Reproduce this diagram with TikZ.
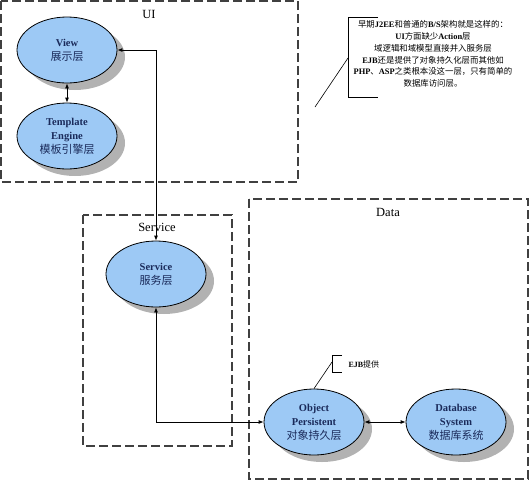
\documentclass[tikz,border=0pt]{standalone}
\usepackage{fontspec}
\setmainfont{Liberation Serif}
\newfontfamily\cjk{Noto Sans CJK SC}
\usetikzlibrary{shapes.geometric,shadows,arrows.meta}
\definecolor{partblue}{HTML}{9DC9F5}
\definecolor{parttext}{HTML}{1A2A5A}
\newcommand\en[1]{{\rmfamily\bfseries #1}}
\newcommand\zh[1]{{\cjk\mdseries\fontsize{11}{14}\selectfont #1}}

\begin{document}
\begin{tikzpicture}[x=1pt,y=-1pt,
		layer/.style={draw=black!75,line width=1.1pt,dash pattern=on 9pt off 4pt},
		title/.style={font=\fontsize{12.5}{14}\selectfont},
		part/.style={ellipse,draw,line width=0.8pt,fill=partblue,
				minimum width=100pt,minimum height=66pt,inner sep=0pt,
				align=center,text=parttext,font=\fontsize{10.5}{14}\selectfont\bfseries,
				drop shadow={shadow xshift=8pt,shadow yshift=-7pt,fill=black!30,opacity=1}},
		link/.style={line width=0.8pt,{Latex[length=5pt,width=4pt]}-{Latex[length=5pt,width=4pt]}},
		callout/.style={line width=0.6pt}
	]
	\useasboundingbox (0,0) rectangle (530,480);
	% layers
	\draw[layer] (1,1) rectangle (298,182);
	\draw[layer] (83,215) rectangle (232,446);
	\draw[layer] (249,199) rectangle (528,479);
	\node[title] (uiname) at (149,14) {UI};
	\node[title] (servicename) at (157,227) {Service};
	\node[title] (dataname) at (388,212) {Data};
	% parts
	\node[part] (view) at (67,50) {View\\\zh{展示层}};
	\node[part] (template) at (67,136) {Template\\Engine\\\zh{模板引擎层}};
	\node[part] (service) at (156,274) {Service\\\zh{服务层}};
	\node[part] (object) at (314,422) {Object\\Persistent\\\zh{对象持久层}};
	\node[part] (database) at (456,422) {Database\\System\\\zh{数据库系统}};
	\draw[link] (view.south) -- (template.north);
	\draw[link] (view.east) -| (service.north);
	\draw[link] (service.south) |- (object.west);
	\draw[link] (object.east) -- (database.west);
	% notes
	\node[align=center,font=\cjk\fontsize{8.4}{11.7}\selectfont] (note) at (433,54)
		{早期\en{J2EE}和普通的\en{B/S}架构就是这样的：\\
		\en{UI}方面缺少\en{Action}层\\
		域逻辑和域模型直接并入服务层\\
		\en{EJB}还是提供了对象持久化层而其他如\\
		\en{PHP}、\en{ASP}之类根本没这一层，只有简单的\\
		数据库访问层。};
	\coordinate (notetop) at (378,17);
	\coordinate (notebottom) at (378,97);
	\coordinate (notemid) at (348,58);
	\coordinate (noteend) at (315,107);
	\draw[callout] (notetop) -- (348,17) -- (348,97) -- (notebottom);
	\draw[callout] (notemid) -- (noteend);
	\node[anchor=west,font=\cjk\fontsize{8}{10}\selectfont] (ejb) at (345,364) {\en{EJB}提供};
	\coordinate (ejbtop) at (342,355);
	\coordinate (ejbbottom) at (342,372);
	\coordinate (ejbmid) at (332,362);
	\draw[callout] (ejbtop) -- (332,355) -- (332,372) -- (ejbbottom);
	\draw[callout] (ejbmid) -- (object.north);
\end{tikzpicture}
\end{document}
